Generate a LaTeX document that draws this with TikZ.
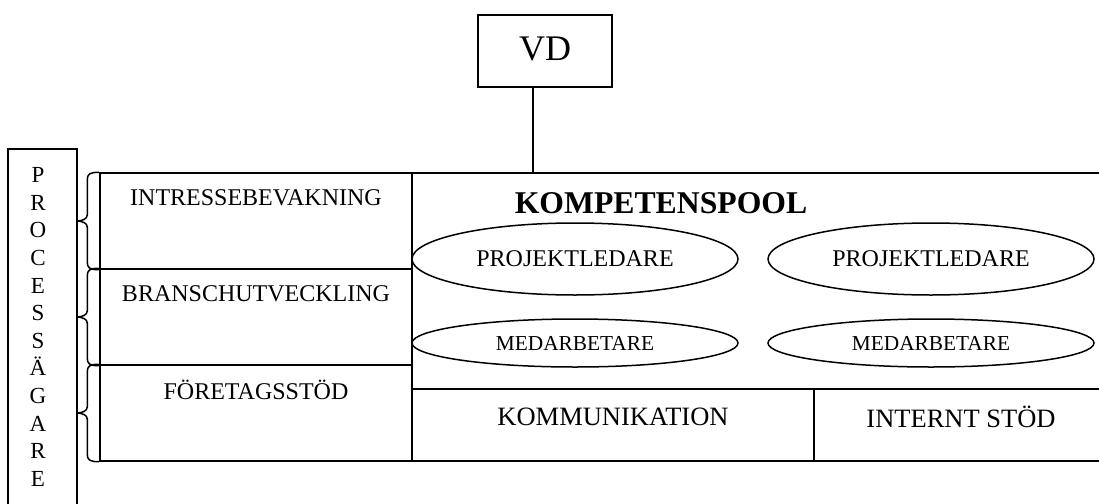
\documentclass[tikz,border=0pt]{standalone}
\usepackage{fontspec}
\setmainfont{Liberation Serif}
\usetikzlibrary{shapes.geometric}
\begin{document}
\begin{tikzpicture}[x=1pt,y=-1pt,
  box/.style={draw,line width=1.5pt,inner sep=0pt,minimum width=#1},
  oval/.style={draw,line width=1.5pt,ellipse,inner sep=0pt,minimum width=326pt},
  lbl/.style={inner sep=0pt,font=\fontsize{24}{24}\selectfont},
  blbl/.style={inner sep=0pt,font=\fontsize{26.5}{26.5}\selectfont},
  brc/.style={line width=1.5pt}]
\useasboundingbox (0,0) rectangle (1099,503);
% VD
\node[box=134pt,minimum height=72pt] (vd) at (545,51) {};
\node[lbl,font=\fontsize{36}{36}\selectfont] (vdt) at (545,49) {VD};
% left boxes
\node[box=312pt,minimum height=96pt] (ib) at (256,221) {};
\node[box=312pt,minimum height=96pt] (bu) at (256,317) {};
\node[box=312pt,minimum height=96pt] (fs) at (256,413) {};
\node[lbl] (ibt) at (256,198) {INTRESSEBEVAKNING};
\node[lbl] (but) at (256,294) {BRANSCHUTVECKLING};
\node[lbl] (fst) at (256,390) {FÖRETAGSSTÖD};
% kompetenspool
\node[box=689pt,minimum height=216pt] (kp) at (756.5,281) {};
\node[inner sep=0pt,font=\fontsize{31.7}{31.7}\selectfont\bfseries] (kpt) at (661,203) {KOMPETENSPOOL};
\node[oval,minimum height=72pt,lbl] (pl1) at (575,259) {PROJEKTLEDARE};
\node[oval,minimum height=72pt,lbl] (pl2) at (931,259) {PROJEKTLEDARE};
\node[oval,minimum height=48pt,inner sep=0pt,font=\fontsize{21.3}{21.3}\selectfont] (ma1) at (575,343) {MEDARBETARE};
\node[oval,minimum height=48pt,inner sep=0pt,font=\fontsize{21.3}{21.3}\selectfont] (ma2) at (931,343) {MEDARBETARE};
% bottom boxes
\node[box=402pt,minimum height=72pt] (km) at (613,425) {};
\node[box=287pt,minimum height=72pt] (is) at (957.5,425) {};
\node[blbl] (kmt) at (613,417) {KOMMUNIKATION};
\node[blbl] (ist) at (961,417) {INTERNT STÖD};
% process owner
\node[box=69pt,minimum height=358pt] (po) at (42.5,328) {};
\node[inner sep=0pt,align=center,font=\fontsize{23}{27.6}\selectfont] (pot) at (38,327)
  {P\\R\\O\\C\\E\\S\\S\\Ä\\G\\A\\R\\E};
% connector VD -> kompetenspool
\draw[line width=1.5pt] (vd.south -| 533,0) -- (kp.north -| 533,0);
% braces
\foreach \n in {ib,bu,fs}{
  \draw[brc] (\n.north west) .. controls ([xshift=-10pt]\n.north west) and ([xshift=-12pt,yshift=-2pt]\n.north west) .. ([xshift=-12pt,yshift=-8pt]\n.north west)
    -- ([xshift=-12pt,yshift=6pt]\n.west)
    .. controls ([xshift=-12pt,yshift=2pt]\n.west) and ([xshift=-17pt]\n.west) .. ([xshift=-23pt]\n.west)
    .. controls ([xshift=-17pt]\n.west) and ([xshift=-12pt,yshift=-2pt]\n.west) .. ([xshift=-12pt,yshift=-6pt]\n.west)
    -- ([xshift=-12pt,yshift=8pt]\n.south west)
    .. controls ([xshift=-12pt,yshift=2pt]\n.south west) and ([xshift=-10pt]\n.south west) .. (\n.south west);
}
\end{tikzpicture}
\end{document}
